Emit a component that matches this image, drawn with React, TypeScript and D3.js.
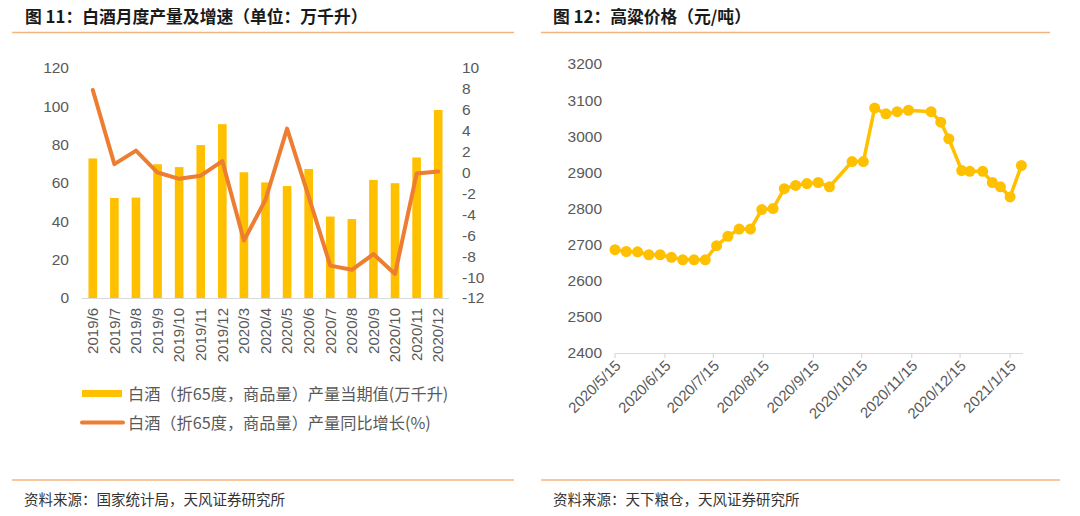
import React from "react";
import * as d3 from "d3";

const months = ["2019/6","2019/7","2019/8","2019/9","2019/10","2019/11","2019/12","2020/3","2020/4","2020/5","2020/6","2020/7","2020/8","2020/9","2020/10","2020/11","2020/12"];
const output = [72.8, 52.2, 52.4, 69.8, 68.3, 79.8, 90.7, 65.6, 60.3, 58.4, 67.3, 42.5, 41.2, 61.6, 59.9, 73.3, 98.1];
const growth = [7.9, 0.8, 2.1, 0.0, -0.6, -0.3, 1.1, -6.5, -2.6, 4.2, -2.3, -8.9, -9.3, -7.8, -9.7, -0.1, 0.1];
const leftTicks = [0, 20, 40, 60, 80, 100, 120];
const rightTicks = [10, 8, 6, 4, 2, 0, -2, -4, -6, -8, -10, -12];

const priceDates = ["2020-05-15","2020-05-22","2020-05-29","2020-06-05","2020-06-12","2020-06-19","2020-06-26","2020-07-03","2020-07-10","2020-07-17","2020-07-24","2020-07-31","2020-08-07","2020-08-14","2020-08-21","2020-08-28","2020-09-04","2020-09-11","2020-09-18","2020-09-25","2020-10-09","2020-10-16","2020-10-23","2020-10-30","2020-11-06","2020-11-13","2020-11-27","2020-12-03","2020-12-08","2020-12-16","2020-12-21","2020-12-29","2021-01-04","2021-01-09","2021-01-15","2021-01-22"];
const prices = [2686, 2681, 2680, 2672, 2672, 2665, 2658, 2658, 2658, 2697, 2723, 2743, 2743, 2797, 2800, 2855, 2864, 2869, 2872, 2860, 2930, 2930, 3078, 3062, 3068, 3072, 3068, 3039, 2993, 2905, 2903, 2903, 2872, 2860, 2832, 2919];
const priceTicks = [2400, 2500, 2600, 2700, 2800, 2900, 3000, 3100, 3200];
const dateTicks = ["2020-05-15","2020-06-15","2020-07-15","2020-08-15","2020-09-15","2020-10-15","2020-11-15","2020-12-15","2021-01-15"];

const FONT = "'Liberation Sans', 'Noto Sans CJK SC', sans-serif";
const CJK = "'Noto Sans CJK SC', sans-serif";
const GRAY = "#595959";
const ORANGE_RULE = "#F6B47E";

export default function App() {
  // Left chart scales
  const x = d3.scaleBand<string>().domain(months).range([82, 449]).paddingInner(0.6).paddingOuter(0.3);
  const yL = d3.scaleLinear().domain([0, 120]).range([298, 68]);
  const yR = d3.scaleLinear().domain([-12, 10]).range([298, 68]);
  const lineL = d3.line<number>()
    .x((_, i) => (x(months[i]) as number) + x.bandwidth() / 2)
    .y((d) => yR(d));

  // Right chart scales
  const parse = d3.timeParse("%Y-%m-%d");
  const xT = d3.scaleTime().domain([parse("2020-05-15") as Date, parse("2021-01-23") as Date]).range([615, 1023]);
  const yP = d3.scaleLinear().domain([2400, 3200]).range([353, 64]);
  const pts = priceDates.map((d, i) => [xT(parse(d) as Date), yP(prices[i])] as [number, number]);
  const lineP = d3.line<[number, number]>();

  return (
    <svg width={1080} height={516} style={{ position: "absolute", left: 0, top: 0, background: "#fff" }}>
      <rect x={0} y={0} width={1080} height={516} fill="#fff" />
      {/* Titles */}
      <text x={25} y={23} fontFamily={CJK} fontWeight={700} fontSize={16.8} fill="#1a1a1a">图 11：白酒月度产量及增速（单位：万千升）</text>
      <line x1={12} x2={514} y1={32.5} y2={32.5} stroke={ORANGE_RULE} strokeWidth={1.5} />
      <text x={553} y={23} fontFamily={CJK} fontWeight={700} fontSize={16.8} fill="#1a1a1a">图 12：高粱价格（元/吨）</text>
      <line x1={541} x2={1050} y1={32.5} y2={32.5} stroke={ORANGE_RULE} strokeWidth={1.5} />

      {/* Left chart */}
      {leftTicks.map((t) => (
        <text key={"l" + t} x={69} y={yL(t)} dy="0.35em" textAnchor="end" fontFamily={FONT} fontSize={15.5} fill={GRAY}>{t}</text>
      ))}
      {rightTicks.map((t) => (
        <text key={"r" + t} x={462} y={yR(t)} dy="0.35em" textAnchor="start" fontFamily={FONT} fontSize={15.5} fill={GRAY}>{t}</text>
      ))}
      <line x1={82} x2={449} y1={298.5} y2={298.5} stroke="#d9d9d9" strokeWidth={1.2} />
      {months.map((m, i) => (
        <rect key={m} x={x(m)} y={yL(output[i])} width={x.bandwidth()} height={298 - yL(output[i])} fill="#FFC000" />
      ))}
      <path d={lineL(growth) as string} fill="none" stroke="#ED7D31" strokeWidth={4} strokeLinejoin="round" strokeLinecap="round" />
      {months.map((m) => {
        const cx = (x(m) as number) + x.bandwidth() / 2;
        return (
          <text key={"t" + m} transform={`translate(${cx},308) rotate(-90)`} textAnchor="end" dy="0.35em" fontFamily={FONT} fontSize={15} fill={GRAY}>{m}</text>
        );
      })}
      {/* Legend */}
      <rect x={82} y={390} width={40} height={7} fill="#FFC000" />
      <text x={128} y={394} dy="0.35em" fontFamily={CJK} fontSize={16.2} fill={GRAY}>白酒（折65度，商品量）产量当期值(万千升)</text>
      <line x1={82} x2={123} y1={422.5} y2={422.5} stroke="#ED7D31" strokeWidth={4} strokeLinecap="round" />
      <text x={128} y={423} dy="0.35em" fontFamily={CJK} fontSize={16.2} fill={GRAY}>白酒（折65度，商品量）产量同比增长(%)</text>

      {/* Right chart */}
      {priceTicks.map((t) => (
        <text key={"p" + t} x={602} y={yP(t)} dy="0.35em" textAnchor="end" fontFamily={FONT} fontSize={15.5} fill={GRAY}>{t}</text>
      ))}
      <line x1={615} x2={1023} y1={353.5} y2={353.5} stroke="#d9d9d9" strokeWidth={1.2} />
      {dateTicks.map((d) => {
        const tx = xT(parse(d) as Date);
        const dt = parse(d) as Date;
        const label = d3.timeFormat("%Y/")(dt) + (dt.getMonth() + 1) + "/" + dt.getDate();
        return (
          <g key={d}>
            <line x1={tx} x2={tx} y1={353.5} y2={358} stroke="#d9d9d9" strokeWidth={1.2} />
            <text transform={`translate(${tx + 3},363) rotate(-45)`} textAnchor="end" dy="0.35em" fontFamily={FONT} fontSize={15} fill={GRAY}>{label}</text>
          </g>
        );
      })}
      <path d={lineP(pts) as string} fill="none" stroke="#FFC000" strokeWidth={3.5} strokeLinejoin="round" />
      {pts.map((p, i) => (
        <circle key={"c" + i} cx={p[0]} cy={p[1]} r={5.5} fill="#FFC000" />
      ))}

      {/* Footers */}
      <line x1={12} x2={514} y1={480} y2={480} stroke={ORANGE_RULE} strokeWidth={1.5} />
      <text x={24} y={500} dy="0.35em" fontFamily={CJK} fontSize={14.5} fill="#333">资料来源：国家统计局，天风证券研究所</text>
      <line x1={541} x2={1060} y1={480} y2={480} stroke={ORANGE_RULE} strokeWidth={1.5} />
      <text x={553} y={500} dy="0.35em" fontFamily={CJK} fontSize={14.5} fill="#333">资料来源：天下粮仓，天风证券研究所</text>
    </svg>
  );
}
